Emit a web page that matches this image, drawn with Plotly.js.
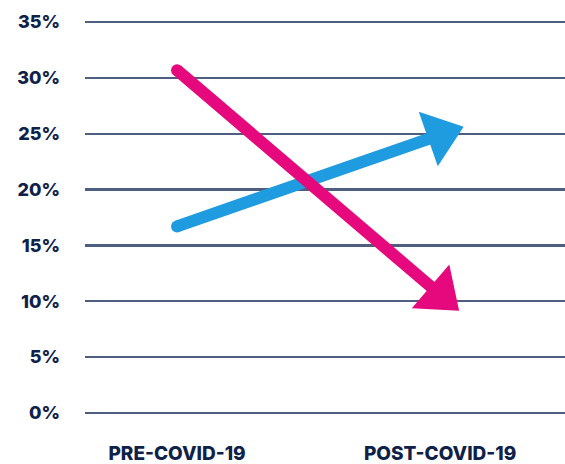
<!DOCTYPE html>
<html>
<head>
<meta charset="utf-8">
<script src="https://cdn.plot.ly/plotly-3.0.1.min.js"></script>
<style>html,body{margin:0;padding:0;background:#fff;}#chart{width:565px;height:464px;}</style>
</head>
<body>
<div id="chart"></div>
<script>
const categories = ["PRE-COVID-19", "POST-COVID-19"];
const pinkValues = [30.7, 10.6];
const blueValues = [16.7, 24.9];
const yTickVals = [0, 5, 10, 15, 20, 25, 30, 35];
const yTickText = ["0%", "5%", "10%", "15%", "20%", "25%", "30%", "35%"];

const PINK = "#E6097D";
const BLUE = "#1F9BDF";
const NAVY = "#0E2249";

function arrowTraces(values, color) {
  return [{
    type: "scatter",
    mode: "lines+markers",
    x: categories,
    y: values,
    line: {color: color, width: 12},
    marker: {
      color: color,
      opacity: 1,
      symbol: "triangle-up",
      size: [0, 50],
      sizemode: "diameter",
      sizeref: 1,
      angleref: "previous",
      angle: 0,
      line: {width: 0}
    },
    hoverinfo: "skip",
    showlegend: false
  }, {
    type: "scatter",
    mode: "markers",
    x: [categories[0]],
    y: [values[0]],
    marker: {color: color, opacity: 1, symbol: "circle", size: 12, line: {width: 0}},
    hoverinfo: "skip",
    showlegend: false
  }];
}

const data = arrowTraces(blueValues, BLUE).concat(arrowTraces(pinkValues, PINK));

const layout = {
  width: 565,
  height: 464,
  margin: {l: 85, r: 0, t: 11, b: 40, pad: 0},
  paper_bgcolor: "#ffffff",
  plot_bgcolor: "#ffffff",
  showlegend: false,
  font: {family: "Inter, 'Noto Sans', sans-serif", color: NAVY},
  xaxis: {
    type: "category",
    range: [-0.35, 1.475],
    showgrid: false,
    zeroline: false,
    showline: false,
    ticks: "",
    ticklabelstandoff: 16,
    tickfont: {family: "Inter, 'Noto Sans', sans-serif", size: 19, color: NAVY, weight: 800},
    automargin: false,
    fixedrange: true
  },
  yaxis: {
    range: [-1, 36],
    tickvals: yTickVals,
    ticktext: yTickText,
    showgrid: true,
    gridcolor: "#4F5E7E",
    gridwidth: 2.5,
    zeroline: false,
    showline: false,
    ticks: "",
    ticklabelstandoff: 24,
    tickfont: {family: "Inter, 'Noto Sans', sans-serif", size: 18, color: NAVY, weight: 800},
    automargin: false,
    fixedrange: true
  }
};

Plotly.newPlot("chart", data, layout, {displayModeBar: false, staticPlot: true});
</script>
</body>
</html>
